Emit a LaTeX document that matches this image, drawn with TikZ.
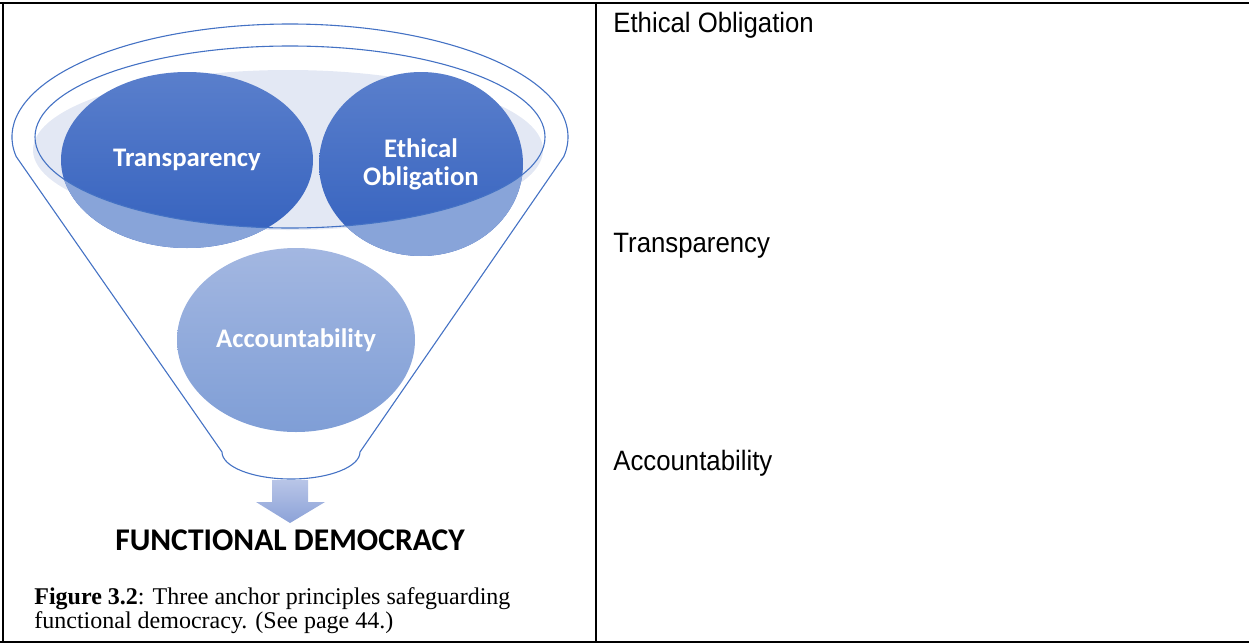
\documentclass[tikz,border=0pt]{standalone}
\usepackage{fontspec}
\setmainfont{Liberation Serif}
\newfontfamily\titrefont[Ligatures=NoCommon]{Carlito}
\newfontfamily\colonnefont[FakeStretch=0.92]{Liberation Sans}
\usetikzlibrary{shapes.geometric}

\definecolor{bleuTrait}{HTML}{4472C4}
\definecolor{bleuHaut}{HTML}{5A7FCC}
\definecolor{bleuBas}{HTML}{3461BE}
\definecolor{bleuClair}{HTML}{88A4D9}
\definecolor{bleuPale}{HTML}{A3B7E1}
\definecolor{bleuMoyen}{HTML}{7F9ED6}
\definecolor{fondBouche}{HTML}{E3E8F4}
\definecolor{flecheHaut}{HTML}{B8C5E7}
\definecolor{flecheBas}{HTML}{8CA2D8}

\begin{document}
\begin{tikzpicture}[x=0.5pt,y=-0.5pt]
	% Styles
	\tikzstyle{cadre}=[line width=1.15pt,black]
	\tikzstyle{trait}=[bleuTrait,line width=0.55pt]
	\tikzstyle{bulle}=[ellipse,inner sep=0pt,text=white,align=center,font=\titrefont\bfseries\fontsize{13.4}{14}\selectfont]
	\tikzstyle{bulleHaute}=[bulle,top color=bleuHaut,bottom color=bleuBas]
	\tikzstyle{colonne}=[anchor=base west,inner sep=0pt,font=\colonnefont\fontsize{14}{16}\selectfont]
	% Dimensions
	\def\Largeur{1249}
	\def\Hauteur{643}
	\def\Separation{596}
	\useasboundingbox (0,0) rectangle (\Largeur,\Hauteur);
	% Points de l'entonnoir
	\coordinate (bouche) at (290,137);
	\coordinate (col) at (291,452);
	% Fond de l'ouverture
	\fill[fondBouche] (288,150) ellipse [x radius=127.5pt,y radius=40pt];
	% Bulles du haut
	\node[bulleHaute,minimum width=126pt,minimum height=88pt] (T) at (187,160) {Transparency};
	\node[bulleHaute,minimum width=102pt,minimum height=92pt] (E) at (421,164) {Ethical\\Obligation};
	% Bas des bulles, devant le bord
	\begin{scope}
		\clip ([shift={(180:127.5pt and 45.5pt)}]bouche) arc[start angle=180,end angle=360,x radius=127.5pt,y radius=45.5pt] -- (600,137) -- (600,300) -- (0,300) -- (0,137) -- cycle;
		\fill[bleuClair] (T.center) ellipse [x radius=63pt,y radius=44pt];
		\fill[bleuClair] (E.center) ellipse [x radius=51pt,y radius=46pt];
	\end{scope}
	% Entonnoir
	\draw[trait] (bouche) ellipse [x radius=127.5pt,y radius=45.5pt];
	\draw[trait] ([shift={(190:139pt and 56.5pt)}]bouche) arc[start angle=190,end angle=-10,x radius=139pt,y radius=56.5pt]
		-- ([shift={(34.5pt,0)}]col) arc[start angle=0,end angle=-180,x radius=34.5pt,y radius=13.5pt] -- cycle;
	% Bulle du bas
	\node[bulle,top color=bleuPale,bottom color=bleuMoyen,minimum width=119pt,minimum height=92pt] (A) at (296,340) {Accountability};
	% Fleche
	\path[top color=flecheHaut,bottom color=flecheBas] (272,480) -- (308,480) -- (308,502) -- (325,502) -- (290,523) -- (256,502) -- (272,502) -- cycle;
	% Textes
	\node[font=\titrefont\bfseries\fontsize{15.8}{18}\selectfont,anchor=base,inner sep=0pt] (FD) at (290,550) {FUNCTIONAL DEMOCRACY};
	\node[anchor=north west,inner sep=0pt,align=left,font=\fontsize{12}{10}\selectfont] (legende) at (34,587) {\textbf{Figure 3.2}: Three anchor principles safeguarding\\functional democracy. (See page 44.)};
	% Colonne de droite
	\node[colonne] (cE) at (613,32) {Ethical Obligation};
	\node[colonne] (cT) at (613,252) {Transparency};
	\node[colonne] (cA) at (613,470) {Accountability};
	% Cadre
	\draw[cadre] (0,2.8) -- (\Largeur,2.8);
	\draw[cadre] (0,641.7) -- (\Largeur,641.7);
	\draw[cadre] (2.8,2.8) -- (2.8,641.7);
	\draw[cadre] (\Separation,2.8) -- (\Separation,641.7);
\end{tikzpicture}
\end{document}
